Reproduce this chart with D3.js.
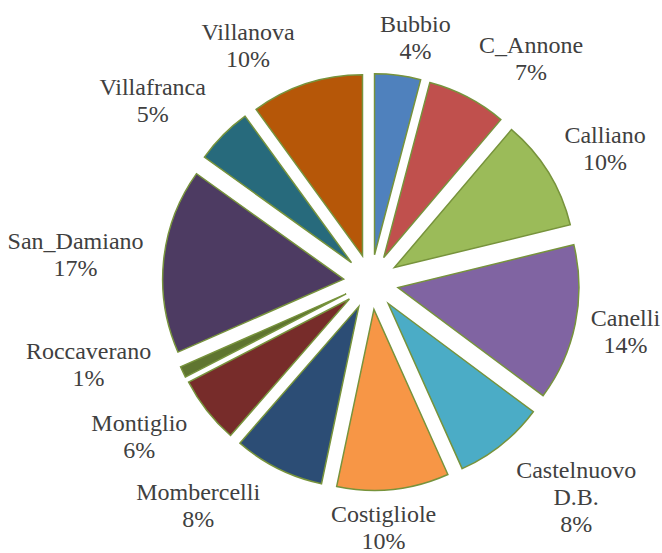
<!DOCTYPE html>
<html>
<head>
<meta charset="utf-8">
<script src="https://cdn.jsdelivr.net/npm/d3@7/dist/d3.min.js"></script>
<style>
  html, body { margin: 0; padding: 0; background: #ffffff; }
  svg { display: block; }
</style>
</head>
<body>
<svg id="chart" width="662" height="553" font-family="Liberation Serif"></svg>
<script>
// ---- Data ----
const categories = ["Bubbio", "C_Annone", "Calliano", "Canelli", "Castelnuovo D.B.", "Costigliole",
                    "Mombercelli", "Montiglio", "Roccaverano", "San_Damiano", "Villafranca", "Villanova"];
const values = [4.1, 7.1, 10.0, 14.0, 8.1, 10.0, 8.1, 6.0, 1.0, 16.5, 5.1, 10.0];
const colors = ["#4F81BD", "#C0504D", "#9BBB59", "#8064A2", "#4BACC6", "#F79646",
                "#2C4D75", "#772C2A", "#5F7530", "#4D3B62", "#276A7C", "#B65708"];

// ---- Layout ----
const cx = 371, cy = 282;
const R = 181;
const explode = 27.5;
const labelR = 225;
const lineH = 27;
const capH = 17;
const fontSize = 24;
const labelNudge = [[11, 0], [32, -5], [8, -4], [0, 0], [27, 11], [-17, -1],
                    [-45, 2], [-17, 1], [-23, -25], [-4, -2], [-21, -8], [-39, -2]];

const svg = d3.select("#chart");
const g = svg.append("g").attr("transform", `translate(${cx},${cy})`);

const total = d3.sum(values);
const pie = d3.pie().sort(null).value(d => d).startAngle(0).endAngle(2 * Math.PI);
const arcs = pie(values);
const arc = d3.arc().innerRadius(0).outerRadius(R);

arcs.forEach((a, i) => {
  const mid = (a.startAngle + a.endAngle) / 2;
  const ox = Math.sin(mid) * explode, oy = -Math.cos(mid) * explode;
  g.append("path")
    .attr("d", arc(a))
    .attr("transform", `translate(${ox},${oy})`)
    .attr("fill", colors[i])
    .attr("stroke", "#77933C")
    .attr("stroke-width", 1.5)
    .attr("stroke-linejoin", "miter");
});

// ---- Labels ----
const ctx = document.createElement("canvas").getContext("2d");
ctx.font = `${fontSize}px "Liberation Serif"`;
arcs.forEach((a, i) => {
  const mid = (a.startAngle + a.endAngle) / 2;
  const sx = Math.sin(mid), sy = -Math.cos(mid);
  const pct = Math.round(values[i] / total * 100) + "%";
  const lines = categories[i].split(" ").concat([pct]);
  const widths = lines.map(ln => ctx.measureText(ln).width);
  const w = d3.max(widths);
  const h = capH + (lines.length - 1) * lineH;
  const bx = cx + labelR * sx + sx * w / 2 + labelNudge[i][0];
  const by = cy + labelR * sy + sy * h / 2 + labelNudge[i][1];
  const firstBase = by - h / 2 + capH;
  lines.forEach((ln, k) => {
    svg.append("text")
      .attr("x", bx - widths[k] / 2)
      .attr("y", firstBase + k * lineH)
      .attr("font-size", fontSize)
      .attr("font-family", "Liberation Serif")
      .attr("fill", "#404040")
      .text(ln);
  });
});
</script>
</body>
</html>
